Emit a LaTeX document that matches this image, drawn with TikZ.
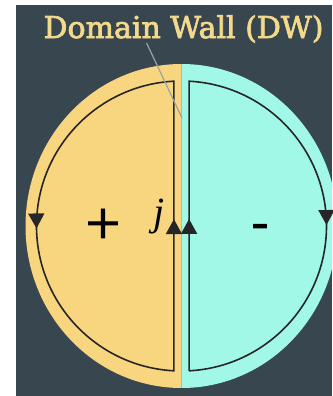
\documentclass[tikz,border=0pt]{standalone}
\usepackage{fontspec}
\setmainfont{DejaVu Serif}
\newfontfamily\titlefont{DejaVu Serif}[FakeBold=2.5]
\newfontfamily\signfont{Liberation Serif}[FakeBold=1.5]
\newfontfamily\jfont{Liberation Serif}
\usetikzlibrary{arrows.meta, decorations.markings}

\definecolor{slate}{HTML}{37464F}
\definecolor{sand}{HTML}{F8D57F}
\definecolor{aqua}{HTML}{A1F8E7}
\definecolor{gold}{HTML}{F3D98B}
\definecolor{leader}{HTML}{9AA3A8}

\tikzset{
  current/.style 2 args={draw=black!85, line width=1.6pt, postaction={decorate},
    decoration={markings,
      mark=at position #1 with {\arrow{Triangle[width=16pt,length=15pt]}},
      mark=at position #2 with {\arrow{Triangle[width=16pt,length=15pt]}}}},
  sign/.style={font=\signfont\fontsize{62}{62}\selectfont},
}

\begin{document}
\begin{tikzpicture}[x=1pt, y=-1pt, every node/.style={inner sep=0pt}]
  \useasboundingbox (0,0) rectangle (332,396);
  \fill[slate] (16,5) rectangle (332,396);

  % the two domains
  \coordinate (centre) at (181.5,226);
  \begin{scope}
    \clip (16,5) rectangle (181.5,396);
    \fill[sand] (centre) ellipse [x radius=156, y radius=162];
  \end{scope}
  \begin{scope}
    \clip (181.5,5) rectangle (332,396);
    \fill[aqua] (centre) ellipse [x radius=156, y radius=162];
  \end{scope}

  % current loops
  \draw[current={0.305}{0.811}] (centre) ++(267:145) arc[start angle=267, end angle=93, radius=145] -- cycle;
  \draw[current={0.208}{0.697}] (centre) ++(87:145) -- ++(0,-289.6) arc[start angle=-87, end angle=87, radius=145];

  % labels
  \node[text=gold, font=\titlefont\fontsize{30}{36}\selectfont, anchor=base] (title) at (183.5,38) {Domain Wall (DW)};
  \node[sign] (plus) at (103,226.5) {+};
  \node[sign, font=\signfont\fontsize{50}{50}\selectfont, anchor=base] (minus) at (260,237.8) {-};
  \node[font=\jfont\fontsize{40}{40}\selectfont\itshape] (j) at (159,216.5) {j};

  \coordinate (wall) at (182,118);
  \draw[leader, line width=1.2pt] ([xshift=-37pt]title.south) -- (wall);
\end{tikzpicture}
\end{document}
